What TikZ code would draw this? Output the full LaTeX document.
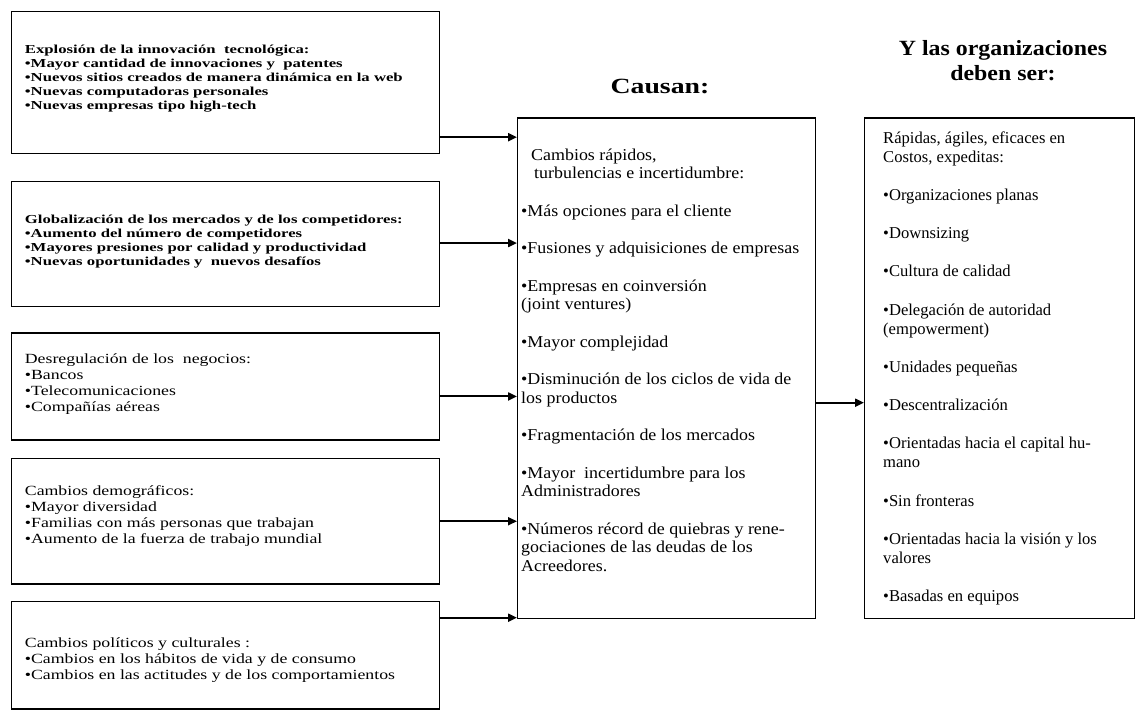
\documentclass[tikz,border=0pt]{standalone}
\usepackage{fontspec}
\setmainfont{Liberation Serif}
\newfontfamily\leftfont[FakeStretch=1.37]{Liberation Serif}
\newfontfamily\plainfont[FakeStretch=1.27]{Liberation Serif}
\newfontfamily\midfont[FakeStretch=1.08]{Liberation Serif}
\newfontfamily\headfont[FakeStretch=1.1]{Liberation Serif}
\newfontfamily\causefont[FakeStretch=1.28]{Liberation Serif}
\usetikzlibrary{arrows.meta, positioning}
\tikzset{
  % marco de un factor (columna izquierda)
  causebox/.style={draw, line width=1.5pt, anchor=north west, minimum width=428pt},
  % texto de un factor
  causetext/.style={inner sep=0pt, align=left, font=\plainfont\fontsize{14}{16}\selectfont},
  boldtext/.style={causetext, font=\leftfont\bfseries\fontsize{12.2}{14}\selectfont},
  % recuadros grandes (efectos y respuesta)
  bigbox/.style={draw, line width=1.4pt, anchor=north west},
  bigtext/.style={inner sep=0pt, align=left},
  % titulos de columna
  colhead/.style={font=\headfont\bfseries\fontsize{21.7}{25}\selectfont, align=center},
  % flecha gruesa
  arr/.style={-{Triangle[length=9pt, width=8pt]}, line width=2pt},
}
\begin{document}
\begin{tikzpicture}[x=1pt, y=-1pt]
  \useasboundingbox (0,0) rectangle (1136,711);
  % columna izquierda: marcos
  \node[causebox, minimum height=142.3pt] (tech) at (10.7,10.7) {};
  \node[causebox, minimum height=125pt] (glob) at (10.7,181) {};
  \node[causebox, minimum height=107pt] (dereg) at (10.7,332.3) {};
  \node[causebox, minimum height=125.6pt] (demo) at (10.7,457.7) {};
  \node[causebox, minimum height=107.3pt] (pol) at (10.7,600.7) {};
  % columna izquierda: textos
  \node[boldtext, right=14pt of tech.west, yshift=4pt] (tech-txt)
    {Explosión de la innovación~ tecnológica:\\
     •Mayor cantidad de innovaciones y~ patentes\\
     •Nuevos sitios creados de manera dinámica en la web\\
     •Nuevas computadoras personales\\
     •Nuevas empresas tipo high-tech};
  \node[boldtext, right=14pt of glob.west, yshift=3pt] (glob-txt)
    {Globalización de los mercados y de los competidores:\\
     •Aumento del número de competidores\\
     •Mayores presiones por calidad y productividad\\
     •Nuevas oportunidades y~ nuevos desafíos};
  \node[causetext, right=14pt of dereg.west, yshift=2pt] (dereg-txt)
    {Desregulación de los~ negocios:\\
     •Bancos\\
     •Telecomunicaciones\\
     •Compañías aéreas};
  \node[causetext, right=14pt of demo.west, yshift=5pt] (demo-txt)
    {Cambios demográficos:\\
     •Mayor diversidad\\
     •Familias con más personas que trabajan\\
     •Aumento de la fuerza de trabajo mundial};
  \node[causetext, right=14pt of pol.west, yshift=-5pt] (pol-txt)
    {Cambios políticos y culturales :\\
     •Cambios en los hábitos de vida y de consumo\\
     •Cambios en las actitudes y de los comportamientos};

  % efectos
  \node[colhead, font=\causefont\bfseries\fontsize{21.7}{25}\selectfont] (causan) at (660,86.7) {Causan:};
  \node[bigbox, minimum width=298pt, minimum height=500.4pt] (mid) at (517,117.3) {};
  \node[bigtext, right=4pt of mid.west, yshift=8pt, font=\midfont\fontsize{16.6}{18.7}\selectfont] (mid-txt)
    {\hspace*{10pt}Cambios rápidos,\\
     \hspace*{13pt}turbulencias e incertidumbre:\\[18.7pt]
     •Más opciones para el cliente\\[18.7pt]
     •Fusiones y adquisiciones de empresas\\[18.7pt]
     •Empresas en coinversión\\
     (joint ventures)\\[18.7pt]
     •Mayor complejidad\\[18.7pt]
     •Disminución de los ciclos de vida de\\
     los productos\\[18.7pt]
     •Fragmentación de los mercados\\[18.7pt]
     •Mayor~ incertidumbre para los\\
     Administradores\\[18.7pt]
     •Números récord de quiebras y rene-\\
     gociaciones de las deudas de los\\
     Acreedores.};

  % respuesta de las organizaciones
  \node[colhead] (deben) at (1003,61) {Y las organizaciones\\deben ser:};
  \node[bigbox, minimum width=270pt, minimum height=500.7pt] (org) at (864,117.3) {};
  \node[bigtext, right=19pt of org.west, font=\fontsize{16.6}{19.1}\selectfont] (org-txt)
    {Rápidas, ágiles, eficaces en\\
     Costos, expeditas:\\[19.1pt]
     •Organizaciones planas\\[19.1pt]
     •Downsizing\\[19.1pt]
     •Cultura de calidad\\[19.1pt]
     •Delegación de autoridad\\
     (empowerment)\\[19.1pt]
     •Unidades pequeñas\\[19.1pt]
     •Descentralización\\[19.1pt]
     •Orientadas hacia el capital hu-\\
     mano\\[19.1pt]
     •Sin fronteras\\[19.1pt]
     •Orientadas hacia la visión y los\\
     valores\\[19.1pt]
     •Basadas en equipos};

  % salidas de las flechas
  \coordinate (tech-out) at ([yshift=17.3pt]tech.south east);
  \coordinate (glob-out) at ([yshift=1.2pt]glob.east);
  \coordinate (dereg-out) at ([yshift=-9.9pt]dereg.east);
  \coordinate (demo-out) at (demo.east);
  \coordinate (pol-out) at ([yshift=-17pt]pol.north east);
  \coordinate (mid-out) at ([yshift=-34.5pt]mid.east);
  \foreach \src in {tech, glob, dereg, demo, pol}
    \draw[arr] (\src-out) -- (\src-out -| mid.west);
  \draw[arr] (mid-out) -- (mid-out -| org.west);
\end{tikzpicture}
\end{document}
